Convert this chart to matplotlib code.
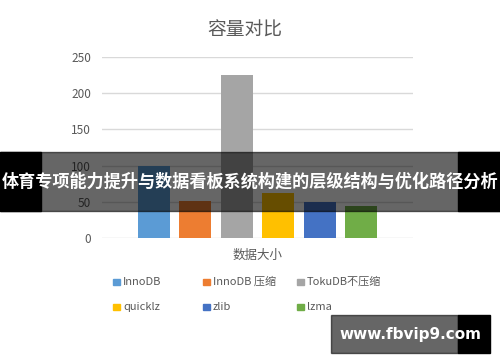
import matplotlib
matplotlib.use("Agg")
import matplotlib.pyplot as plt
from matplotlib.patches import Rectangle

plt.rcParams['font.family'] = ['Noto Sans CJK SC', 'DejaVu Sans']

series = ["InnoDB", "InnoDB 压缩", "TokuDB不压缩", "quicklz", "zlib", "lzma"]
values = [100, 51, 225, 62, 50, 44]
colors = ["#5B9BD5", "#ED7D31", "#A5A5A5", "#FFC000", "#4472C4", "#70AD47"]
yticks = [0, 50, 100, 150, 200, 250]

W, H = 500, 362
fig = plt.figure(figsize=(W / 100, H / 100), dpi=100)
ax = fig.add_axes([102 / W, 1 - 238 / H, 311 / W, 181 / H])

x = list(range(len(values)))
ax.bar(x, values, width=0.77, color=colors, zorder=3)
ax.set_xlim(-1.25, 6.25)
ax.set_ylim(0, 250)
ax.set_yticks(yticks)
ax.set_xticks([])
ax.grid(axis='y', color='#d9d9d9', linewidth=1, zorder=0)
for s in ax.spines.values():
    s.set_visible(False)
ax.tick_params(axis='y', length=0, labelsize=8.5, labelcolor='#595959', pad=8)

fig.text(0.49, 1 - 30 / H, "容量对比", ha='center', va='center', fontsize=13.5, color='#595959')
fig.text(258 / W, 1 - 255 / H, "数据大小", ha='center', va='center', fontsize=9, color='#595959')

# legend
cols = [113, 203, 297]
rows = [282, 307]
for i, (name, c) in enumerate(zip(series, colors)):
    lx = cols[i % 3]
    ly = rows[i // 3]
    fig.patches.append(Rectangle((lx / W, 1 - (ly + 3) / H), 7 / W, 6 / H,
                                 transform=fig.transFigure, color=c))
    fig.text((lx + 10) / W, 1 - ly / H, name, ha='left', va='center', fontsize=8, color='#595959')

# banner overlay
fig.patches.append(Rectangle((0, 1 - 211 / H), 1, 59 / H, transform=fig.transFigure,
                             color='black', alpha=0.6, zorder=10))
fig.patches.append(Rectangle((0, 1 - 211 / H), 41 / W, 59 / H, transform=fig.transFigure,
                             color='black', zorder=10))
fig.patches.append(Rectangle((458 / W, 1 - 211 / H), 42 / W, 59 / H, transform=fig.transFigure,
                             color='black', zorder=10))
fig.text(0.5, 1 - 182 / H, "体育专项能力提升与数据看板系统构建的层级结构与优化路径分析",
         ha='center', va='center', fontsize=12.3, color='white', fontweight='bold', zorder=11)

# watermark
fig.patches.append(Rectangle((331 / W, 1 - 353 / H), 127 / W, 38 / H, transform=fig.transFigure,
                             color='black', alpha=0.6, zorder=10))
fig.patches.append(Rectangle((458 / W, 1 - 353 / H), 32 / W, 38 / H, transform=fig.transFigure,
                             color='black', zorder=10))
fig.text(410 / W, 1 - 334 / H, "www.fbvip9.com", ha='center', va='center', fontsize=11,
         color='white', fontweight='bold', family='DejaVu Sans', zorder=11)

fig.savefig("out.png", dpi=100)
